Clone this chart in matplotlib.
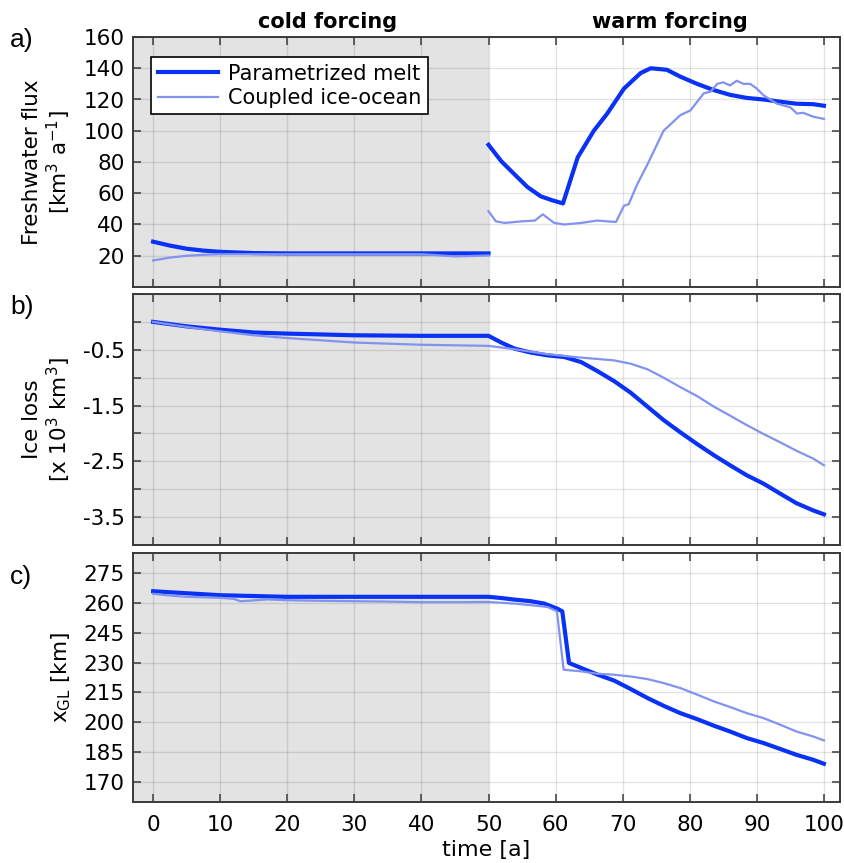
import matplotlib
matplotlib.use('Agg')
import matplotlib.pyplot as plt
import matplotlib.transforms as mtransforms
import numpy as np

plt.rcParams['mathtext.default'] = 'regular'
plt.rcParams['axes.unicode_minus'] = False

# ---- panel a: freshwater flux [km3/a] ----
t_flux_param_cold = [0, 2.5, 5, 7.5, 10, 15, 20, 30, 40, 50]
flux_param_cold = [29, 26.5, 24.5, 23.3, 22.5, 21.7, 21.5, 21.5, 21.5, 21.5]
t_flux_coup_cold = [0, 2.5, 5, 7.5, 10, 15, 20, 30, 40, 45, 47, 50]
flux_coup_cold = [17, 18.8, 20, 20.6, 21, 21, 21, 21, 21, 19.6, 19.8, 20.2]

t_flux_param_warm = [50, 51.9, 53.9, 55.8, 57.8, 59.5, 61.1, 63.3, 65.7, 67.7, 70.2, 72.7,
                     74.2, 76.6, 78.6, 81.1, 83.6, 86.0, 88.5, 91.0, 93.5, 95.9, 98.4, 100]
flux_param_warm = [91, 80.5, 72, 64, 58, 55.5, 53.5, 83, 100, 111, 127, 137,
                   140, 139, 134.6, 130, 126, 123, 121, 120, 118.6, 117.3, 117, 116]
t_flux_coup_warm = [50, 51.1, 52.4, 54.9, 56.9, 58.1, 59.8, 61.3, 63.8, 66.2, 69.0, 70.2,
                    70.9, 72.2, 73.7, 76.1, 78.6, 80.1, 82.1, 83.1, 84.1, 85.0, 86.0, 87.0,
                    88.0, 89.0, 90.0, 91.0, 93.0, 95.0, 96.0, 96.9, 98.4, 100]
flux_coup_warm = [48.5, 42, 41, 42, 42.5, 46.5, 41, 40, 41, 42.5, 41.6, 52,
                  53, 66, 78.5, 100, 110, 113, 124, 125, 130, 131, 129, 132,
                  130, 130, 127, 122.7, 117.3, 115, 111, 111.5, 109, 107.6]

# ---- panel b: ice loss [10^3 km3] ----
t_loss_param = [0, 5, 10, 15, 20, 30, 40, 50, 51.9, 53.9, 56.3, 58.8, 61.3, 63.8, 66.2,
                68.7, 71.2, 73.7, 76.1, 78.6, 81.1, 83.6, 86.0, 88.5, 91.0, 93.5, 95.9, 98.4, 100]
loss_param = [0, -0.08, -0.14, -0.19, -0.21, -0.24, -0.25, -0.25, -0.37, -0.48, -0.55, -0.60,
              -0.63, -0.72, -0.88, -1.06, -1.27, -1.52, -1.76, -1.98, -2.19, -2.39, -2.57,
              -2.75, -2.90, -3.08, -3.25, -3.38, -3.45]
t_loss_coup = [0, 5, 10, 15, 20, 30, 40, 50, 53.9, 58.8, 63.8, 68.7, 71.2, 73.7, 76.1, 78.6,
               81.1, 83.6, 86.0, 88.5, 91.0, 93.5, 95.9, 98.4, 100]
loss_coup = [0, -0.09, -0.17, -0.24, -0.29, -0.37, -0.41, -0.43, -0.49, -0.58, -0.64, -0.69,
             -0.75, -0.85, -1.0, -1.17, -1.33, -1.52, -1.68, -1.85, -2.01, -2.16, -2.31, -2.45, -2.57]

# ---- panel c: grounding line position [km] ----
t_gl_param = [0, 5, 10, 20, 30, 40, 50, 51.9, 53.9, 56.3, 58.3, 60.3, 61.0, 62.0, 63.8, 66.2,
              68.7, 71.2, 73.7, 76.1, 78.6, 81.1, 83.6, 86.0, 88.5, 91.0, 93.5, 95.9, 98.4, 100]
gl_param = [265.8, 264.8, 263.8, 263, 263, 263, 263, 262.4, 261.6, 260.8, 259.6, 257, 255.7,
            229.8, 227.3, 224, 221, 216.7, 212.2, 208.3, 204.6, 201.6, 198.3, 195.4, 192.1,
            189.6, 186.6, 183.7, 181.2, 179.2]
t_gl_coup = [0, 3, 5, 10, 12, 13, 15, 17, 20, 25, 30, 35, 40, 45, 50, 53.9, 56.9, 58.8, 60.2,
             61.2, 63.8, 66.2, 68.7, 71.2, 73.7, 76.1, 78.6, 81.1, 83.6, 86.0, 88.5, 91.0,
             93.5, 95.9, 98.4, 100]
gl_coup = [264.5, 263.5, 263, 262.5, 262, 260.8, 261.2, 261.7, 261.3, 261, 260.8, 260.6, 260.3,
           260.3, 260.4, 259.6, 258.6, 257.9, 255.7, 226.4, 225.6, 224.4, 223.9, 223, 221.7,
           219.7, 217.2, 213.9, 210.5, 207.7, 204.6, 202.1, 198.8, 195.4, 192.9, 190.9]

c_param = '#0a32f5'
c_coup = '#8193ef'
edge = '#3a3a3a'
xlim = (-3, 102.4)

fig = plt.figure(figsize=(8.45, 8.63), dpi=100)
left, width = 133 / 845, 707 / 845
ax_a = fig.add_axes([left, 576 / 863, width, 250 / 863])
ax_b = fig.add_axes([left, 318 / 863, width, 251 / 863])
ax_c = fig.add_axes([left, 61 / 863, width, 249 / 863])

for ax in (ax_a, ax_b, ax_c):
    ax.set_xlim(xlim)
    ax.axvspan(xlim[0], 50, color='#e3e3e3', zorder=0, lw=0)
    ax.set_xticks(np.arange(0, 101, 10))
    ax.grid(True, color='k', alpha=0.11, lw=1)
    ax.set_axisbelow(True)
    ax.tick_params(direction='in', length=6, width=1.1, color=edge, top=True, right=True,
                   labelsize=15.5, pad=6)
    for s in ax.spines.values():
        s.set_color(edge)
        s.set_linewidth(1.4)
    ax.yaxis.set_label_coords(-0.085, 0.5)

# panel a
ax_a.plot(t_flux_param_cold, flux_param_cold, color=c_param, lw=3, label='Parametrized melt')
ax_a.plot(t_flux_coup_cold, flux_coup_cold, color=c_coup, lw=1.6, label='Coupled ice-ocean')
ax_a.plot(t_flux_param_warm, flux_param_warm, color=c_param, lw=3)
ax_a.plot(t_flux_coup_warm, flux_coup_warm, color=c_coup, lw=1.6)
ax_a.set_ylim(0, 160)
ax_a.set_yticks(np.arange(20, 161, 20))
ax_a.tick_params(labelbottom=False)
ax_a.set_ylabel('Freshwater flux\n[km$^3$ a$^{-1}$]', fontsize=15.5, linespacing=1.1)
leg = ax_a.legend(loc='upper left', bbox_to_anchor=(0.026, 0.918), fontsize=15,
                  fancybox=False, edgecolor='k', framealpha=1, handlelength=2.9,
                  borderpad=0.3, labelspacing=0.2, handletextpad=0.5, borderaxespad=0)
leg.get_frame().set_linewidth(1.2)

trans = mtransforms.blended_transform_factory(ax_a.transData, ax_a.transAxes)
ax_a.text(26, 1.02, 'cold forcing', transform=trans, ha='center', va='bottom',
          fontsize=15, fontweight='bold')
ax_a.text(77, 1.02, 'warm forcing', transform=trans, ha='center', va='bottom',
          fontsize=15, fontweight='bold')

# panel b
ax_b.plot(t_loss_param, loss_param, color=c_param, lw=3)
ax_b.plot(t_loss_coup, loss_coup, color=c_coup, lw=1.6)
ax_b.set_ylim(-4, 0.5)
b_ticks = np.arange(-4, 0.51, 0.5)
ax_b.set_yticks(b_ticks)
ax_b.set_yticklabels(['%.1f' % v if v < 0 and round(v * 2) % 2 == 1 else '' for v in b_ticks])
ax_b.tick_params(labelbottom=False)
ax_b.set_ylabel('Ice loss\n[x 10$^3$ km$^3$]', fontsize=15.5, linespacing=1.1)

# panel c
ax_c.plot(t_gl_param, gl_param, color=c_param, lw=3)
ax_c.plot(t_gl_coup, gl_coup, color=c_coup, lw=1.6)
ax_c.set_ylim(160, 285)
ax_c.set_yticks(np.arange(170, 276, 15))
ax_c.set_ylabel('x$_{GL}$ [km]', fontsize=15.5)
ax_c.set_xlabel('time [a]', fontsize=16, labelpad=4)
ax_c.tick_params(axis='x', pad=9)

for lab, yy in (('a)', 0.954), ('b)', 0.644), ('c)', 0.331)):
    fig.text(0.012, yy, lab, fontsize=19, family='Liberation Sans', va='center', ha='left')

fig.savefig('out.png', dpi=100)
